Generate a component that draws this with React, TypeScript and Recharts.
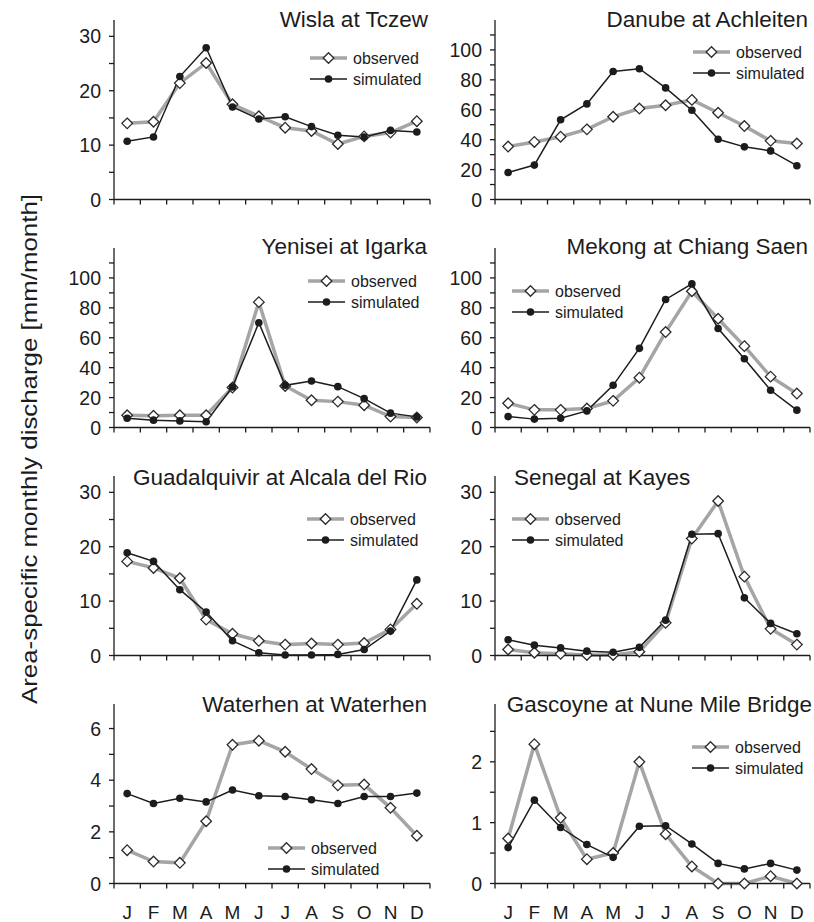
import { LineChart, Line, XAxis, YAxis, Legend } from 'recharts';

const FONT = '"Liberation Sans", Arial, Helvetica, sans-serif';
const INK = '#1c1c1c';
const OBS = '#a5a5a5';

const months = ['J', 'F', 'M', 'A', 'M', 'J', 'J', 'A', 'S', 'O', 'N', 'D'];

// mm/month
const wislaObs = [14.0, 14.3, 21.4, 25.1, 17.5, 15.3, 13.2, 12.6, 10.2, 11.6, 12.3, 14.4];
const wislaSim = [10.7, 11.5, 22.6, 27.9, 17.0, 14.8, 15.2, 13.4, 11.8, 11.5, 12.7, 12.4];
const danubeObs = [35.4, 38.5, 42.0, 46.9, 55.3, 60.8, 63.0, 66.6, 58.0, 49.1, 39.2, 37.4];
const danubeSim = [18.1, 23.0, 53.3, 63.9, 85.6, 87.4, 74.6, 59.7, 40.3, 35.2, 32.5, 22.6];
const yeniseiObs = [8.2, 7.8, 8.2, 8.2, 26.7, 83.8, 27.8, 18.2, 17.3, 14.9, 7.3, 6.7];
const yeniseiSim = [6.2, 4.9, 4.4, 3.8, 27.1, 70.0, 28.2, 31.1, 27.3, 19.3, 9.6, 7.1];
const mekongObs = [16.2, 11.8, 11.8, 12.7, 17.8, 33.3, 63.8, 91.1, 72.7, 54.4, 34.0, 22.7];
const mekongSim = [7.3, 5.6, 6.2, 11.1, 28.2, 52.9, 85.6, 96.0, 66.2, 46.0, 24.9, 11.6];
const guadObs = [17.3, 16.1, 14.2, 6.6, 4.0, 2.7, 2.0, 2.2, 2.0, 2.3, 4.8, 9.5];
const guadSim = [18.9, 17.3, 12.1, 8.0, 2.7, 0.5, 0.1, 0.1, 0.2, 1.1, 4.5, 13.9];
const senegalObs = [1.1, 0.5, 0.3, 0.1, 0.1, 0.7, 6.0, 21.5, 28.4, 14.5, 4.9, 2.0];
const senegalSim = [2.9, 1.9, 1.4, 0.8, 0.6, 1.5, 6.5, 22.3, 22.4, 10.6, 5.9, 4.0];
const waterhenObs = [1.29, 0.85, 0.8, 2.41, 5.37, 5.53, 5.1, 4.43, 3.8, 3.83, 2.93, 1.85];
const waterhenSim = [3.48, 3.1, 3.3, 3.16, 3.62, 3.4, 3.37, 3.24, 3.1, 3.37, 3.37, 3.5];
const gascoyneObs = [0.74, 2.29, 1.08, 0.4, 0.5, 2.0, 0.81, 0.28, 0.0, 0.0, 0.12, 0.0];
const gascoyneSim = [0.59, 1.37, 0.92, 0.64, 0.43, 0.94, 0.95, 0.65, 0.33, 0.24, 0.33, 0.22];

const ticks30 = [0, 5, 10, 15, 20, 25, 30];
const labels30 = [0, 10, 20, 30];
const ticks100 = [0, 10, 20, 30, 40, 50, 60, 70, 80, 90, 100, 110];
const labels100 = [0, 20, 40, 60, 80, 100];
const ticks6 = [0, 1, 2, 3, 4, 5, 6];
const labels6 = [0, 2, 4, 6];
const ticks2 = [0, 0.5, 1, 1.5, 2, 2.5];
const labels2 = [0, 1, 2];

// band edges get tick marks, band centres carry the month letters
const xTicks = Array.from({ length: 25 }, (_, i) => i / 2);

type Panel = {
  title: string;
  obs: number[];
  sim: number[];
  yMax: number;
  yTicks: number[];
  yLabels: number[];
  row: number;
  col: number;
  titleX: number;
  titleY: number;
  titleAnchor: 'start' | 'end';
  legendX: number;
  legendY: number;
};

const panels: Panel[] = [
  { title: 'Wisla at Tczew', obs: wislaObs, sim: wislaSim, yMax: 33, yTicks: ticks30, yLabels: labels30, row: 0, col: 0, titleX: 428, titleY: 27, titleAnchor: 'end', legendX: 310, legendY: 58 },
  { title: 'Danube at Achleiten', obs: danubeObs, sim: danubeSim, yMax: 120, yTicks: ticks100, yLabels: labels100, row: 0, col: 1, titleX: 808, titleY: 27, titleAnchor: 'end', legendX: 253, legendY: 52 },
  { title: 'Yenisei at Igarka', obs: yeniseiObs, sim: yeniseiSim, yMax: 120, yTicks: ticks100, yLabels: labels100, row: 1, col: 0, titleX: 427, titleY: 254, titleAnchor: 'end', legendX: 308, legendY: 53 },
  { title: 'Mekong at Chiang Saen', obs: mekongObs, sim: mekongSim, yMax: 120, yTicks: ticks100, yLabels: labels100, row: 1, col: 1, titleX: 808, titleY: 254, titleAnchor: 'end', legendX: 72, legendY: 63 },
  { title: 'Guadalquivir at Alcala del Rio', obs: guadObs, sim: guadSim, yMax: 33, yTicks: ticks30, yLabels: labels30, row: 2, col: 0, titleX: 427, titleY: 485, titleAnchor: 'end', legendX: 307, legendY: 63 },
  { title: 'Senegal at Kayes', obs: senegalObs, sim: senegalSim, yMax: 33, yTicks: ticks30, yLabels: labels30, row: 2, col: 1, titleX: 514, titleY: 485, titleAnchor: 'start', legendX: 72, legendY: 63 },
  { title: 'Waterhen at Waterhen', obs: waterhenObs, sim: waterhenSim, yMax: 6.95, yTicks: ticks6, yLabels: labels6, row: 3, col: 0, titleX: 427, titleY: 712, titleAnchor: 'end', legendX: 268, legendY: 164 },
  { title: 'Gascoyne at Nune Mile Bridge', obs: gascoyneObs, sim: gascoyneSim, yMax: 2.95, yTicks: ticks2, yLabels: labels2, row: 3, col: 1, titleX: 812, titleY: 712, titleAnchor: 'end', legendX: 252, legendY: 63 },
];

const diamondPath = (cx: number, cy: number, r: number) =>
  `M${cx},${cy - r}L${cx + r},${cy}L${cx},${cy + r}L${cx - r},${cy}Z`;

const renderDiamond = (props: any) => {
  const { cx, cy, index } = props;
  if (cx == null || cy == null) return <g key={`o-${index}`} />;
  return <path key={`o-${index}`} d={diamondPath(cx, cy, 5.3)} fill="#fff" stroke="#2a2a2a" strokeWidth={1.3} />;
};

const renderCircle = (props: any) => {
  const { cx, cy, index } = props;
  if (cx == null || cy == null) return <g key={`s-${index}`} />;
  return <circle key={`s-${index}`} cx={cx} cy={cy} r={3.8} fill={INK} />;
};

const XTick = ({ x, y, payload, showMonths }: any) => {
  const v = payload.value;
  if (Number.isInteger(v)) {
    return <line x1={x} x2={x} y1={y} y2={y + 5} stroke={INK} strokeWidth={1.3} />;
  }
  if (!showMonths) return <g />;
  return (
    <text x={x} y={y + 35.5} textAnchor="middle" fontSize={19} fill={INK} fontFamily={FONT}>
      {months[Math.floor(v)]}
    </text>
  );
};

const YTick = ({ x, y, payload, labels }: any) => (
  <g>
    <line x1={x - 5} x2={x} y1={y} y2={y} stroke={INK} strokeWidth={1.3} />
    {labels.includes(payload.value) && (
      <text x={x - 13} y={y} dy="0.36em" textAnchor="end" fontSize={19.5} fill={INK} fontFamily={FONT}>
        {payload.value}
      </text>
    )}
  </g>
);

const LegendBox = () => (
  <svg width={130} height={44} style={{ display: 'block', overflow: 'visible' }}>
    <line x1={0} x2={37} y1={11} y2={11} stroke={OBS} strokeWidth={3.5} />
    <path d={diamondPath(18.5, 11, 5.3)} fill="#fff" stroke="#2a2a2a" strokeWidth={1.3} />
    <text x={43} y={16.5} fontSize={16} fill={INK} fontFamily={FONT}>observed</text>
    <line x1={0} x2={37} y1={32} y2={32} stroke={INK} strokeWidth={1.5} />
    <circle cx={18.5} cy={32} r={3.8} fill={INK} />
    <text x={43} y={37.5} fontSize={16} fill={INK} fontFamily={FONT}>simulated</text>
  </svg>
);

const PanelChart = ({ p }: { p: Panel }) => {
  const left = p.col === 0 ? 0 : 440;
  const width = p.col === 0 ? 440 : 374;
  const yAxisW = p.col === 0 ? 114 : 55;
  const rightM = p.col === 0 ? 10 : 4;
  const bottomRow = p.row === 3;
  const height = bottomRow ? 238 : 228;
  const data = months.map((m, i) => ({ x: i + 0.5, month: m, obs: p.obs[i], sim: p.sim[i] }));

  return (
    <div style={{ position: 'absolute', left, top: p.row * 228, width, height }}>
      <LineChart width={width} height={height} data={data} margin={{ top: 20, right: rightM, bottom: 0, left: 0 }}>
        <XAxis
          type="number"
          dataKey="x"
          domain={[0, 12]}
          ticks={xTicks}
          interval={0}
          height={height - 20 - 179.5}
          tickLine={false}
          tickSize={0}
          tickMargin={0}
          axisLine={{ stroke: INK, strokeWidth: 1.3 }}
          tick={(t: any) => <XTick {...t} showMonths={bottomRow} />}
        />
        <YAxis
          type="number"
          domain={[0, p.yMax]}
          ticks={p.yTicks}
          interval={0}
          width={yAxisW}
          tickLine={false}
          tickSize={0}
          tickMargin={0}
          axisLine={{ stroke: INK, strokeWidth: 1.3 }}
          tick={(t: any) => <YTick {...t} labels={p.yLabels} />}
        />
        <Line dataKey="obs" stroke={OBS} strokeWidth={3.5} dot={renderDiamond} activeDot={false} isAnimationActive={false} />
        <Line dataKey="sim" stroke={INK} strokeWidth={1.5} dot={renderCircle} activeDot={false} isAnimationActive={false} />
        <Legend
          layout="vertical"
          align="center"
          verticalAlign="middle"
          wrapperStyle={{ left: p.legendX, top: p.legendY - 11, width: 130, height: 44 }}
          content={() => <LegendBox />}
        />
      </LineChart>
    </div>
  );
};

export default function App() {
  return (
    <div style={{ position: 'absolute', left: 0, top: 0, width: 814, height: 922, background: '#fff', fontFamily: FONT }}>
      {panels.map((p) => (
        <PanelChart key={p.title} p={p} />
      ))}
      <svg width={814} height={922} style={{ position: 'absolute', left: 0, top: 0, pointerEvents: 'none' }}>
        {panels.map((p) => (
          <text key={p.title} x={p.titleX} y={p.titleY} textAnchor={p.titleAnchor} fontSize={22.5} fill={INK} fontFamily={FONT}>
            {p.title}
          </text>
        ))}
        <text
          x={37}
          y={449}
          transform="rotate(-90 37 449)"
          textAnchor="middle"
          fontSize={22}
          textLength={510}
          lengthAdjust="spacingAndGlyphs"
          fill={INK}
          fontFamily={FONT}
        >
          Area-specific monthly discharge [mm/month]
        </text>
      </svg>
    </div>
  );
}
